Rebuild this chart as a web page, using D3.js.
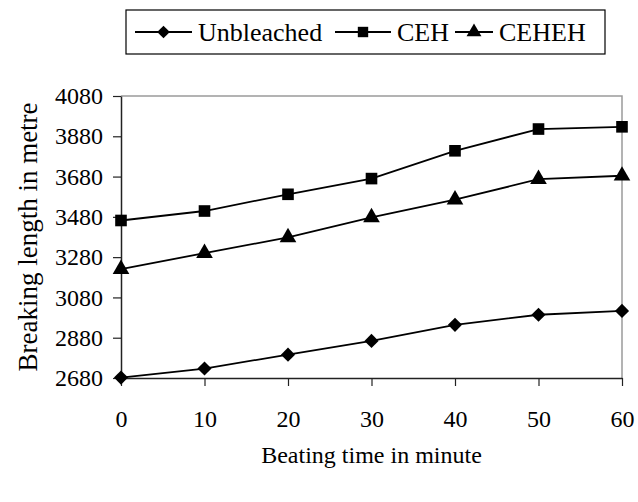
<!DOCTYPE html>
<html><head><meta charset="utf-8">
<script src="https://cdn.jsdelivr.net/npm/d3@7"></script>
<style>body{margin:0;background:#fff}svg{display:block}</style>
</head><body>
<svg id="c" width="638" height="502"></svg>
<script>
const beatingTime = [0, 10, 20, 30, 40, 50, 60];
const unbleached = [2682, 2727, 2796, 2864, 2944, 2994, 3013];
const ceh = [3462, 3509, 3592, 3670, 3808, 3916, 3927];
const ceheh = [3220, 3300, 3378, 3477, 3565, 3667, 3684];
const yTicks = [2680, 2880, 3080, 3280, 3480, 3680, 3880, 4080];
const seriesNames = ["Unbleached", "CEH", "CEHEH"];
const xTitle = "Beating time in minute";
const yTitle = "Breaking length in metre";

const FONT = '"Liberation Serif","Times New Roman",serif';
const svg = d3.select("#c").style("font-family", FONT);
const L = 121, R = 622, T = 96, B = 378;
const x = d3.scaleLinear().domain([0, 60]).range([L, R]);
const y = d3.scaleLinear().domain([2680, 4080]).range([B, T]);

// border top/right
svg.append("path").attr("d", `M${L},${T}H${R}V${B}`).attr("fill","none").attr("stroke","#9a9a9a").attr("stroke-width",1.5);

const yAxis = svg.append("g").attr("transform",`translate(${L},0)`)
  .call(d3.axisLeft(y).tickValues(yTicks).tickFormat(d3.format("d")).tickSize(8).tickSizeOuter(0).tickPadding(10));
const xAxis = svg.append("g").attr("transform",`translate(0,${B})`)
  .call(d3.axisBottom(x).tickValues(beatingTime).tickFormat(d3.format("d")).tickSize(8).tickSizeOuter(0).tickPadding(24));
[yAxis, xAxis].forEach(g => {
  g.attr("font-family", FONT);
  g.select(".domain").attr("stroke","#222").attr("stroke-width",1.5);
  g.selectAll(".tick line").attr("stroke","#222").attr("stroke-width",1.2);
  g.selectAll("text").style("font-family", FONT).style("font-size","24px").attr("fill","#000");
});

const series = [
  {name: seriesNames[0], vals: unbleached, sym: d3.symbolSquare, size: 100, rot: 45},
  {name: seriesNames[1], vals: ceh, sym: d3.symbolSquare, size: 135, rot: 0},
  {name: seriesNames[2], vals: ceheh, sym: d3.symbolTriangle, size: 120, rot: 0}
];
const line = d3.line().x((d,i)=>x(beatingTime[i])).y(d=>y(d));
series.forEach(s => {
  svg.append("path").datum(s.vals).attr("d", line).attr("fill","none").attr("stroke","#000").attr("stroke-width",1.8);
  svg.selectAll(null).data(s.vals).join("path")
    .attr("transform",(d,i)=>`translate(${x(beatingTime[i])},${y(d)}) rotate(${s.rot})`)
    .attr("d", d3.symbol(s.sym, s.size)).attr("fill","#000");
});

// axis titles
svg.append("text").attr("x", (L+R)/2).attr("y", 463).attr("text-anchor","middle")
  .style("font-family", FONT).style("font-size","24px").text(xTitle);
svg.append("text").attr("transform",`translate(37,${(T+B)/2}) rotate(-90)`).attr("text-anchor","middle")
  .style("font-family", FONT).style("font-size","27px").text(yTitle);

// legend
const lg = svg.append("g");
lg.append("rect").attr("x",126).attr("y",10).attr("width",479).attr("height",44).attr("fill","#fff").attr("stroke","#000").attr("stroke-width",1.2);
const legPos = [{lx:135, tx:198},{lx:335, tx:397},{lx:455, tx:499}];
series.forEach((s,i) => {
  const p = legPos[i];
  const lx2 = p.tx - 6;
  lg.append("line").attr("x1",p.lx).attr("x2",lx2).attr("y1",32).attr("y2",32).attr("stroke","#000").attr("stroke-width",1.8);
  lg.append("path").attr("transform",`translate(${(p.lx+lx2)/2},32) rotate(${s.rot})`).attr("d", d3.symbol(s.sym, s.size*0.8)).attr("fill","#000");
  lg.append("text").attr("x",p.tx).attr("y",41).style("font-family", FONT).style("font-size","26px").text(s.name);
});
</script>
</body></html>
